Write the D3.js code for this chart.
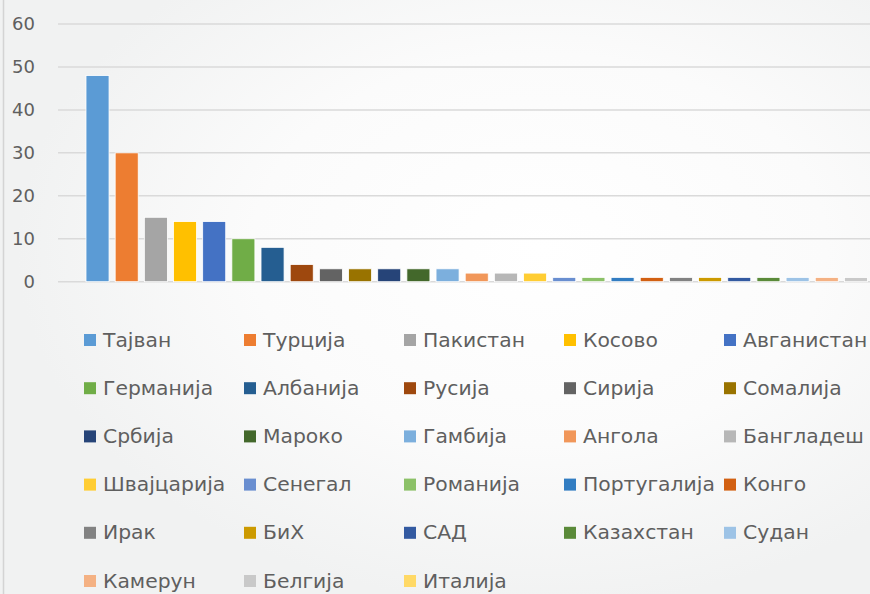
<!DOCTYPE html>
<html>
<head>
<meta charset="utf-8">
<script src="https://cdn.jsdelivr.net/npm/d3@7"></script>
<style>
html,body{margin:0;padding:0;background:#f4f5f5;}
svg{display:block;}
</style>
</head>
<body>
<svg id="chart" width="870" height="594"></svg>
<script>
const categories = ["Тајван","Турција","Пакистан","Косово","Авганистан","Германија","Албанија","Русија","Сирија","Сомалија","Србија","Мароко","Гамбија","Ангола","Бангладеш","Швајцарија","Сенегал","Романија","Португалија","Конго","Ирак","БиХ","САД","Казахстан","Судан","Камерун","Белгија","Италија"];
const values = [48,30,15,14,14,10,8,4,3,3,3,3,3,2,2,2,1,1,1,1,1,1,1,1,1,1,1,1];
const colors = ["#5B9BD5","#ED7D31","#A5A5A5","#FFC000","#4472C4","#70AD47","#255E91","#9E480E","#636363","#997300","#264478","#43682B","#7CAFDD","#F1975A","#B7B7B7","#FFCD33","#698ED0","#8CC168","#327DC2","#D26012","#828282","#CC9A00","#335AA1","#5A8A39","#9DC3E6","#F4B183","#C9C9C9","#FFD966"];
const yTicks = [0,10,20,30,40,50,60];

const svg = d3.select("#chart");
const W = 870, H = 594;

// background
const defs = svg.append("defs");
const rg = defs.append("radialGradient").attr("id","bg").attr("cx","62%").attr("cy","42%").attr("r","60%");
rg.append("stop").attr("offset","0%").attr("stop-color","#ffffff");
rg.append("stop").attr("offset","55%").attr("stop-color","#fbfbfb");
rg.append("stop").attr("offset","100%").attr("stop-color","#f1f2f2");
svg.append("rect").attr("width",W).attr("height",H).attr("fill","url(#bg)");
svg.append("line").attr("x1",3.5).attr("x2",3.5).attr("y1",0).attr("y2",H)
  .attr("stroke","#d4d4d4").attr("stroke-width",1.5);

const step = 29.17, pi = 0.21, po = 0.105;
const x0 = 86 - po*step;
const x = d3.scaleBand().domain(categories)
  .range([x0, x0 + step*(categories.length - pi + 2*po)])
  .paddingInner(pi).paddingOuter(po);
const y = d3.scaleLinear().domain([0,60]).range([281.7, 24]);

// gridlines
svg.append("g").selectAll("line").data(yTicks).join("line")
  .attr("x1",58).attr("x2",W)
  .attr("y1",d=>y(d)).attr("y2",d=>y(d))
  .attr("stroke","#dadada").attr("stroke-width",1.5);

// y axis labels
const yAxis = d3.axisLeft(y).tickValues(yTicks).tickSize(0).tickPadding(0);
const ga = svg.append("g").attr("transform","translate(35,0)").call(yAxis);
ga.select(".domain").remove();
ga.selectAll("text").attr("font-family","DejaVu Sans, sans-serif").attr("font-size",18)
  .attr("fill","#5f5f5f");

// bars
svg.append("g").selectAll("rect").data(categories).join("rect")
  .attr("x",d=>x(d)).attr("width",x.bandwidth())
  .attr("y",(d,i)=>y(values[i])).attr("height",(d,i)=>y(0)-y(values[i]))
  .attr("fill",(d,i)=>colors[i])
  .attr("stroke","#ffffff").attr("stroke-width",0.8);

// legend
const cols = 5, colStep = 160, rowStep = 48.2, lx0 = 84, ly0 = 340;
const lg = svg.append("g").selectAll("g").data(categories).join("g")
  .attr("transform",(d,i)=>`translate(${lx0 + (i%cols)*colStep},${ly0 + Math.floor(i/cols)*rowStep})`);
lg.append("rect").attr("x",0).attr("y",-6).attr("width",12).attr("height",12)
  .attr("fill",(d,i)=>colors[i]);
lg.append("text").attr("transform","translate(19,0) scale(1.07,1)").attr("dy","0.35em")
  .attr("font-family","DejaVu Sans, sans-serif").attr("font-size",19)
  .attr("fill","#5f5f5f").text(d=>d);
</script>
</body>
</html>
